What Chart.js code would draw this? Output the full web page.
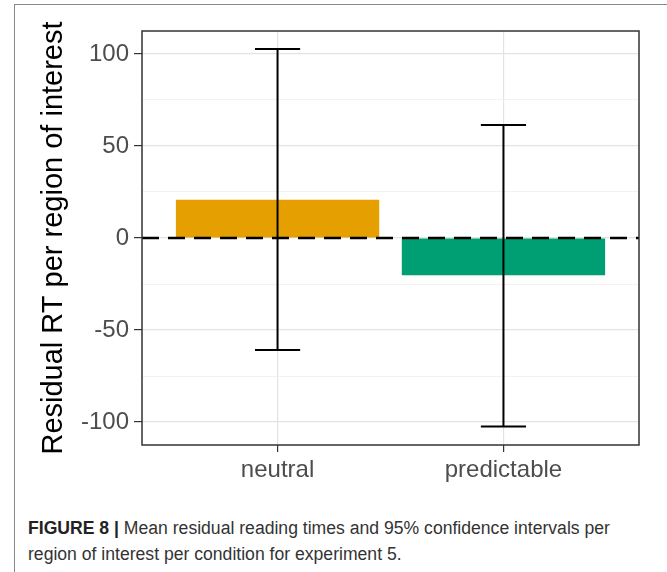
<!DOCTYPE html>
<html>
<head>
<meta charset="utf-8">
<script src="https://cdn.jsdelivr.net/npm/chart.js@4/dist/chart.umd.min.js"></script>
<style>
  body { margin: 0; background: #fff; width: 667px; height: 572px; overflow: hidden; position: relative; }
  #frame { position: absolute; left: 14px; top: 4px; width: 700px; height: 600px; border-top: 1px solid #8a8a8a; border-left: 1px solid #8a8a8a; }
  #wrap { position: absolute; left: 0; top: 0; width: 667px; height: 500px; }
  #caption { position: absolute; left: 28px; top: 515px; width: 612px; font-family: "Liberation Sans", Arial, sans-serif; font-size: 17.6px; line-height: 26px; color: #333; }
  #caption b { color: #222; }
</style>
</head>
<body>
<div id="frame"></div>
<div id="wrap"><canvas id="chart"></canvas></div>
<div id="caption"><b>FIGURE 8 |</b> Mean residual reading times and 95% confidence intervals per region of interest per condition for experiment 5.</div>
<script>
// data
const conditions = ["neutral", "predictable"];
const meanRT = [20.8, -20.3];
const ciLower = [-60.9, -102.5];
const ciUpper = [102.7, 61.4];
const barColors = ["#E69F00", "#009E73"];
const yTicks = [-100, -50, 0, 50, 100];

// error bars + dashed zero line + panel border
const overlay = {
  id: "overlay",
  afterDatasetsDraw(chart) {
    const ctx = chart.ctx;
    const x = chart.scales.x, y = chart.scales.y;
    const area = chart.chartArea;
    ctx.save();
    ctx.strokeStyle = "#000";
    ctx.lineWidth = 2;
    const capHalf = x.getPixelForValue(1.1) - x.getPixelForValue(1);
    conditions.forEach((c, i) => {
      const px = x.getPixelForValue(i + 1);
      const top = y.getPixelForValue(ciUpper[i]);
      const bot = y.getPixelForValue(ciLower[i]);
      ctx.beginPath();
      ctx.moveTo(px, top); ctx.lineTo(px, bot);
      ctx.moveTo(px - capHalf, top); ctx.lineTo(px + capHalf, top);
      ctx.moveTo(px - capHalf, bot); ctx.lineTo(px + capHalf, bot);
      ctx.stroke();
    });
    // zero line
    const y0 = y.getPixelForValue(0);
    ctx.lineWidth = 2.5;
    ctx.setLineDash([17, 9]);
    ctx.beginPath();
    ctx.moveTo(area.left, y0); ctx.lineTo(area.right, y0);
    ctx.stroke();
    ctx.setLineDash([]);
    // panel border
    ctx.lineWidth = 1.5;
    ctx.strokeStyle = "#333";
    ctx.strokeRect(area.left, area.top, area.right - area.left, area.bottom - area.top);
    ctx.restore();
  }
};

new Chart(document.getElementById("chart"), {
  type: "bar",
  data: {
    datasets: [{
      data: conditions.map((c, i) => ({ x: i + 1, y: meanRT[i] })),
      backgroundColor: barColors,
      borderWidth: 0,
      barPercentage: 0.9,
      categoryPercentage: 1
    }]
  },
  options: {
    responsive: true,
    maintainAspectRatio: false,
    animation: false,
    layout: { padding: { top: 31, right: 28, left: 0, bottom: 0 } },
    plugins: { legend: { display: false }, tooltip: { enabled: false } },
    scales: {
      x: {
        type: "linear",
        offset: false,
        min: 0.4,
        max: 2.6,
        afterBuildTicks: s => { s.ticks = conditions.map((c, i) => ({ value: i + 1 })); },
        afterFit: s => { s.height = 55; },
        ticks: {
          callback: v => conditions[v - 1],
          color: "#4d4d4d",
          font: { family: "Liberation Sans, Arial, sans-serif", size: 24 },
          padding: 4,
          maxRotation: 0
        },
        grid: { offset: false, color: "#e3e3e3", lineWidth: 1.2, tickLength: 7, tickColor: "#333" },
        border: { display: false }
      },
      y: {
        min: -112.5,
        max: 112.5,
        afterBuildTicks: s => {
          const t = [];
          for (let v = -100; v <= 100; v += 25) t.push({ value: v });
          s.ticks = t;
        },
        afterFit: s => { s.width = 142; },
        ticks: {
          callback: v => (yTicks.includes(v) ? String(v) : ""),
          color: "#4d4d4d",
          font: { family: "Liberation Sans, Arial, sans-serif", size: 24 },
          padding: 5
        },
        grid: {
          color: c => (yTicks.includes(c.tick.value) ? "#e3e3e3" : "#efefef"),
          lineWidth: c => (yTicks.includes(c.tick.value) ? 1.2 : 0.8),
          tickLength: 8,
          tickColor: c => (yTicks.includes(c.tick.value) ? "#333" : "rgba(0,0,0,0)")
        },
        border: { display: false },
        title: {
          display: true,
          text: "Residual RT per region of interest",
          color: "#000",
          font: { family: "Liberation Sans, Arial, sans-serif", size: 29 },
          padding: { top: 37, bottom: 0 }
        }
      }
    }
  },
  plugins: [overlay]
});
</script>
</body>
</html>
